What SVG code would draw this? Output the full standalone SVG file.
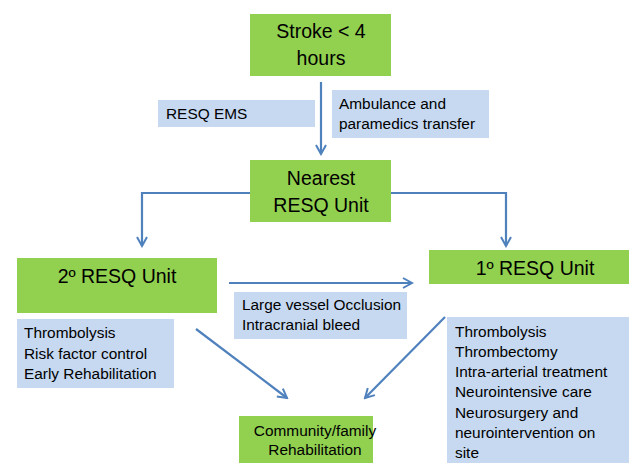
<svg xmlns="http://www.w3.org/2000/svg" width="629" height="463" viewBox="0 0 629 463">
<defs>
<style>
.g{fill:#92D050}
.b{fill:#C6D9F1}
.big{font-family:"Liberation Sans",Arial,sans-serif;font-size:19.5px;fill:#000;text-anchor:middle}
.sm{font-family:"Liberation Sans",Arial,sans-serif;font-size:15.4px;fill:#000}
.mid{text-anchor:middle}
.c{fill:none;stroke:#4F81BD;stroke-width:2.2}
</style>
<marker id="ah" viewBox="0 0 12 12" refX="10" refY="6" markerWidth="12" markerHeight="12" markerUnits="userSpaceOnUse" orient="auto">
<path d="M1,1 L10,6 L1,11" fill="none" stroke="#4F81BD" stroke-width="2"/>
</marker>
</defs>
<rect width="629" height="463" fill="#fff"/>
<g id="stroke">
<rect class="g" x="250" y="14" width="141" height="62"/>
<text class="big" x="321" y="38">Stroke &lt; 4</text>
<text class="big" x="321" y="65">hours</text>
</g>
<g id="resq-ems">
<rect class="b" x="158" y="100" width="157" height="27"/>
<text class="sm" x="166" y="119">RESQ EMS</text>
</g>
<g id="ambulance">
<rect class="b" x="332" y="90" width="157" height="48"/>
<text class="sm" x="339" y="109">Ambulance and</text>
<text class="sm" x="339" y="129">paramedics transfer</text>
</g>
<g id="nearest">
<rect class="g" x="250" y="160" width="141" height="62"/>
<text class="big" x="321" y="185">Nearest</text>
<text class="big" x="321" y="212">RESQ Unit</text>
</g>
<g id="secondary">
<rect class="g" x="17" y="258" width="200" height="55"/>
<text class="big" x="117" y="283">2º RESQ Unit</text>
</g>
<g id="secondary-list">
<rect class="b" x="17" y="319" width="157" height="69"/>
<text class="sm" x="24" y="338">Thrombolysis</text>
<text class="sm" x="24" y="359">Risk factor control</text>
<text class="sm" x="24" y="379">Early Rehabilitation</text>
</g>
<g id="primary">
<rect class="g" x="429" y="250" width="200" height="34"/>
<text class="big" x="535" y="275">1º RESQ Unit</text>
</g>
<g id="lvo">
<rect class="b" x="234" y="292" width="173" height="47"/>
<text class="sm" x="242" y="310">Large vessel Occlusion</text>
<text class="sm" x="242" y="330">Intracranial bleed</text>
</g>
<g id="primary-list">
<rect class="b" x="447" y="317" width="182" height="146"/>
<text class="sm" x="455" y="337">Thrombolysis</text>
<text class="sm" x="455" y="357">Thrombectomy</text>
<text class="sm" x="455" y="377">Intra-arterial treatment</text>
<text class="sm" x="455" y="397">Neurointensive care</text>
<text class="sm" x="455" y="418">Neurosurgery and</text>
<text class="sm" x="455" y="438">neurointervention on</text>
<text class="sm" x="455" y="458">site</text>
</g>
<g id="community">
<rect class="g" x="239" y="416" width="134" height="47"/>
<text class="sm mid" x="315" y="436">Community/family</text>
<text class="sm mid" x="315" y="455">Rehabilitation</text>
</g>
<g id="connectors">
<path class="c" d="M321,82 L321,154" marker-end="url(#ah)"/>
<path class="c" d="M250,193 L142,193 L142,246" marker-end="url(#ah)"/>
<path class="c" d="M391,193 L506,193 L506,246" marker-end="url(#ah)"/>
<path class="c" d="M229,283 L412,283" marker-end="url(#ah)"/>
<path class="c" d="M196,329 L287,398" marker-end="url(#ah)"/>
<path class="c" d="M445,317 L365,398" marker-end="url(#ah)"/>
</g>
</svg>
